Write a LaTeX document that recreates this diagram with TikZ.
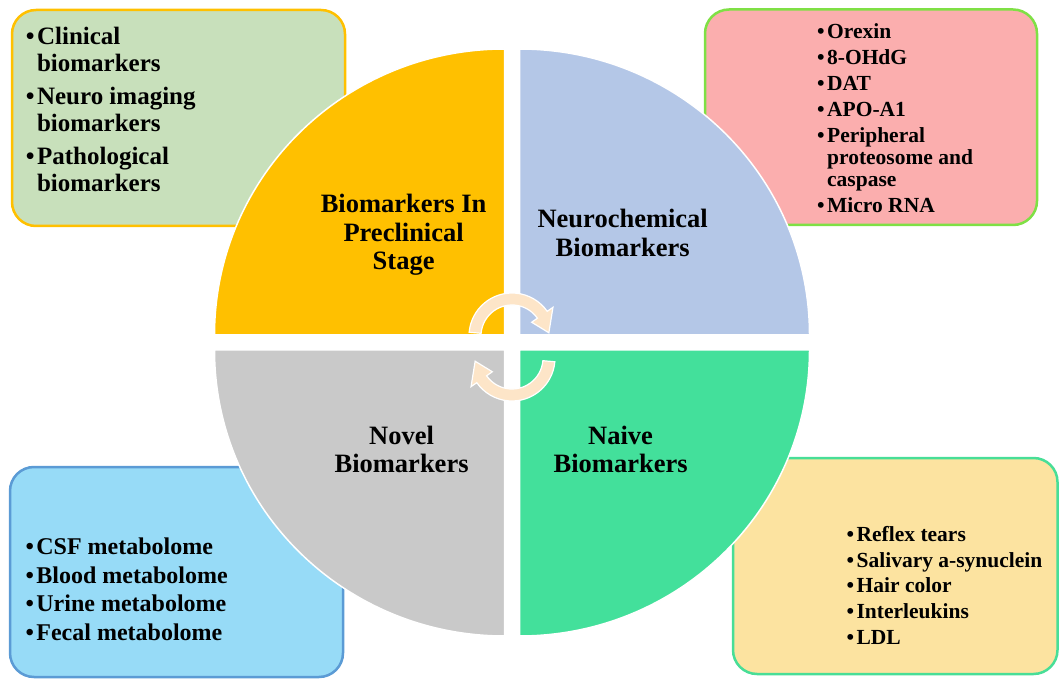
\documentclass[tikz,border=0pt]{standalone}
\usepackage{fontspec}
\setmainfont{Liberation Serif}

\definecolor{qyellow}{HTML}{FFC000}
\definecolor{qblue}{HTML}{B4C7E7}
\definecolor{qgrey}{HTML}{C9C9C9}
\definecolor{qgreen}{HTML}{43E09B}
\definecolor{bgreen}{HTML}{C8E0BB}
\definecolor{bpink}{HTML}{FBAEAE}
\definecolor{bpinkline}{HTML}{7FE045}
\definecolor{bblue}{HTML}{97DBF7}
\definecolor{bblueline}{HTML}{5B9BD5}
\definecolor{bsand}{HTML}{FCE3A0}
\definecolor{bsandline}{HTML}{48DE97}
\definecolor{peach}{HTML}{FDE5C8}

\tikzset{
  quad/.style={draw=white, line width=1.5pt},
  infobox/.style={rounded corners=24pt, line width=2.5pt},
  qlabel/.style={anchor=base, inner sep=0pt, font=\bfseries\fontsize{26.5}{28.5}\selectfont},
  blist/.style={anchor=base west, inner sep=0pt},
  cycarrow/.style={fill=peach, draw=white, line width=1.2pt}
}

\begin{document}
\begin{tikzpicture}[x=1pt, y=1pt]
\useasboundingbox (0,0) rectangle (1059,678);

% side boxes
\filldraw[infobox, fill=bgreen, draw=qyellow] (12,452) rectangle (345,668);
\filldraw[infobox, fill=bpink, draw=bpinkline] (705,453) rectangle (1037,668.5);
\filldraw[infobox, fill=bblue, draw=bblueline] (10,1) rectangle (343,211);
\filldraw[infobox, fill=bsand, draw=bsandline] (733,4) rectangle (1057.5,220);

% quadrants
\filldraw[quad, fill=qyellow] (504.5,343) -- ++(-290,0) arc[start angle=180, end angle=90, x radius=290, y radius=286] -- cycle;
\filldraw[quad, fill=qblue] (519.5,343) -- ++(0,286) arc[start angle=90, end angle=0, x radius=290, y radius=286] -- cycle;
\filldraw[quad, fill=qgrey] (504.5,328) -- ++(-290,0) arc[start angle=180, end angle=270, x radius=290, y radius=286] -- cycle;
\filldraw[quad, fill=qgreen] (519.5,328) -- ++(290,0) arc[start angle=0, end angle=-90, x radius=290, y radius=286] -- cycle;

% cycle arrows
\foreach \r in {0,180}{
  \begin{scope}[rotate around={\r:(512,331)}, shift={(512,342)}]
    \filldraw[cycarrow] (175:31) -- (175:43) arc[start angle=175, end angle=35, radius=43]
      -- (35:50) -- (5:37) -- (35:24) -- (35:31) arc[start angle=35, end angle=175, radius=31] -- cycle;
  \end{scope}
}

% quadrant titles
\node[qlabel] (preclin) at (403.6,465) {\begin{tabular}[t]{@{}c@{}}Biomarkers In\\Preclinical\\Stage\end{tabular}};
\node[qlabel] (neurochem) at (622.7,450.3) {\begin{tabular}[t]{@{}c@{}}Neurochemical\\Biomarkers\end{tabular}};
\node[qlabel] (novel) at (401.6,233.6) {\begin{tabular}[t]{@{}c@{}}Novel\\Biomarkers\end{tabular}};
\node[qlabel] (naive) at (620.6,233.6) {\begin{tabular}[t]{@{}c@{}}Naive\\Biomarkers\end{tabular}};

% lists
\node[blist, font=\bfseries\fontsize{25}{27}\selectfont] (clinlist) at (25.6,633)
  {\begin{tabular}[t]{@{}l@{\hspace{2.5pt}}l@{}}•&Clinical\\&biomarkers\\[6pt]•&Neuro imaging\\&biomarkers\\[6pt]•&Pathological\\&biomarkers\end{tabular}};
\node[blist, font=\bfseries\fontsize{21.5}{22}\selectfont] (chemlist) at (816.9,639)
  {\begin{tabular}[t]{@{}l@{\hspace{2.5pt}}l@{}}•&Orexin\\[4pt]•&8-OHdG\\[4pt]•&DAT\\[4pt]•&APO-A1\\[4pt]•&Peripheral\\&proteosome and\\&caspase\\[4pt]•&Micro RNA\end{tabular}};
\node[blist, font=\bfseries\fontsize{24}{28.8}\selectfont] (metalist) at (25.3,123.7)
  {\begin{tabular}[t]{@{}l@{\hspace{2.5pt}}l@{}}•&CSF metabolome\\•&Blood metabolome\\•&Urine metabolome\\•&Fecal metabolome\end{tabular}};
\node[blist, font=\bfseries\fontsize{21.5}{25.6}\selectfont] (naivelist) at (846.4,136.3)
  {\begin{tabular}[t]{@{}l@{\hspace{2.5pt}}l@{}}•&Reflex tears\\•&Salivary a-synuclein\\•&Hair color\\•&Interleukins\\•&LDL\end{tabular}};
\end{tikzpicture}
\end{document}
